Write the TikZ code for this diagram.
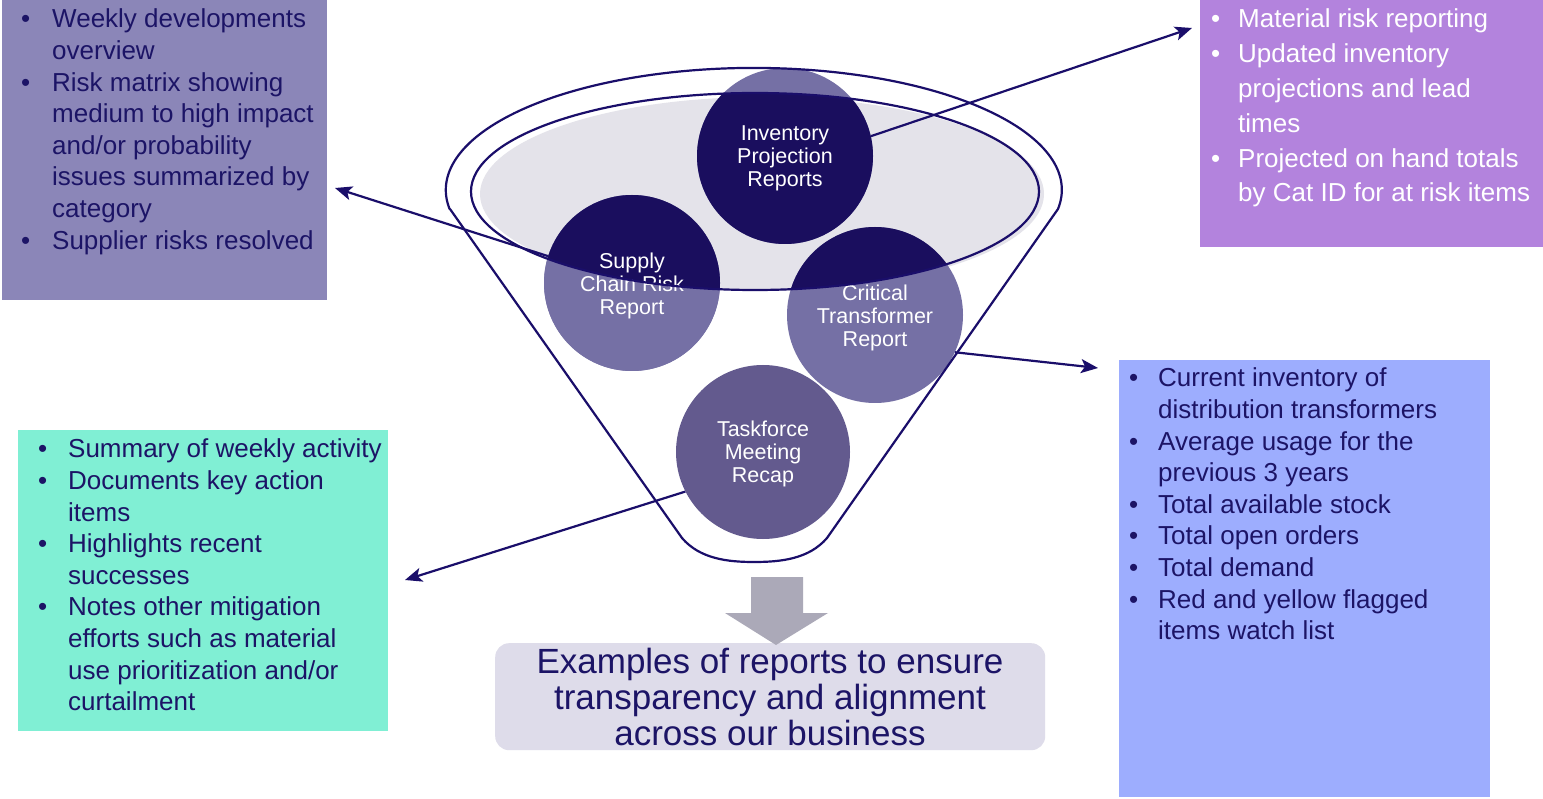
\documentclass[tikz,border=0pt]{standalone}
\usepackage{fontspec}
\setmainfont{Liberation Sans}
\usetikzlibrary{arrows.meta}
\definecolor{navy}{HTML}{1C1466}
\definecolor{lnavy}{HTML}{1A0E6A}
\definecolor{darkc}{HTML}{1A0E5E}
\definecolor{lightc}{HTML}{7570A5}
\definecolor{taskc}{HTML}{635A8E}
\definecolor{boxTL}{HTML}{8B86B8}
\definecolor{boxTR}{HTML}{B383DD}
\definecolor{boxR}{HTML}{9DADFE}
\definecolor{boxBL}{HTML}{80EFD4}
\definecolor{boxB}{HTML}{DEDCEA}
\definecolor{arrowg}{HTML}{ABA9B8}
\definecolor{ellg}{HTML}{E4E3EA}
\begin{document}
\begin{tikzpicture}[x=1pt,y=-1pt,
  infobox/.style={draw=none,inner sep=0pt,anchor=north west},
  listtext/.style={anchor=base west,inner sep=0pt,font=\fontsize{26}{31.6}\selectfont},
  repcircle/.style={circle,draw=none,inner sep=0pt,minimum size=176pt},
  reptext/.style={inner sep=0pt,text=white,align=center,font=\fontsize{21.5}{23}\selectfont},
  conn/.style={draw=lnavy,line width=2.2pt,-{Stealth[length=17pt,width=14pt,inset=4pt]}},
  outline/.style={draw=lnavy,line width=2.2pt}]
\useasboundingbox (0,0) rectangle (1543,799);
\fill[white] (0,0) rectangle (1543,799);

% boxes
\node[infobox,fill=boxTL,minimum width=325pt,minimum height=300pt] (bTL) at (2,0) {};
\node[infobox,fill=boxTR,minimum width=343pt,minimum height=247pt] (bTR) at (1200,0) {};
\node[infobox,fill=boxR,minimum width=371pt,minimum height=437pt] (bR) at (1119,360) {};
\node[infobox,fill=boxBL,minimum width=370pt,minimum height=301pt] (bBL) at (18,430) {};

\node[listtext,text=navy] (tTL) at (21,28) {\begin{tabular}[t]{@{}p{31pt}@{}l@{}}
• & Weekly developments\\
  & overview\\
• & Risk matrix showing\\
  & medium to high impact\\
  & and/or probability\\
  & issues summarized by\\
  & category\\
• & Supplier risks resolved
\end{tabular}};

\node[listtext,text=white,font=\fontsize{26}{34.8}\selectfont] (tTR) at (1211,28) {\begin{tabular}[t]{@{}p{27pt}@{}l@{}}
• & Material risk reporting\\
• & Updated inventory\\
  & projections and lead\\
  & times\\
• & Projected on hand totals\\
  & by Cat ID for at risk items
\end{tabular}};

\node[listtext,text=navy] (tR) at (1129,387) {\begin{tabular}[t]{@{}p{29pt}@{}l@{}}
• & Current inventory of\\
  & distribution transformers\\
• & Average usage for the\\
  & previous 3 years\\
• & Total available stock\\
• & Total open orders\\
• & Total demand\\
• & Red and yellow flagged\\
  & items watch list
\end{tabular}};

\node[listtext,text=navy] (tBL) at (38,458) {\begin{tabular}[t]{@{}p{30pt}@{}l@{}}
• & Summary of weekly activity\\
• & Documents key action\\
  & items\\
• & Highlights recent\\
  & successes\\
• & Notes other mitigation\\
  & efforts such as material\\
  & use prioritization and/or\\
  & curtailment
\end{tabular}};

% bottom summary
\node[infobox,fill=boxB,rounded corners=14pt,minimum width=550pt,minimum height=107pt] (bB) at (495,643) {};
\node[anchor=base,inner sep=0pt,text=navy,font=\fontsize{35}{36}\selectfont] (tB) at (770,673) {\begin{tabular}[t]{@{}c@{}}
Examples of reports to ensure\\
transparency and alignment\\
across our business
\end{tabular}};

% gray down arrow
\fill[arrowg] (751,577) -- (803,577) -- (803,613) -- (828,613) -- (776,645) -- (725,613) -- (751,613) -- cycle;

% inner ellipse fill
\fill[ellg] (762,194) ellipse [x radius=282, y radius=97];

% circles
\node[repcircle,fill=lightc] (inv) at (785,156) {};
\node[repcircle,fill=lightc] (sup) at (632,283) {};
\node[repcircle,fill=lightc] (cri) at (875,315) {};
\node[repcircle,fill=taskc,minimum size=174pt] (task) at (763,452) {};

% arrow targets
\coordinate (t1) at (1192,28);
\coordinate (t2) at (335,188);
\coordinate (t3) at (1098,368);
\coordinate (t4) at (405,580);

% connectors (under circles where they start)
\draw[conn] (sup.center) -- (t2);
\draw[conn] (inv.13) -- (t1);
\draw[conn] (cri.-25) -- (t3);
\draw[conn] (task.207) -- (t4);

% redraw circles on top of connector starts
\fill[lightc] (sup.center) circle (88);
\begin{scope}
\clip (755,191.5) ellipse [x radius=284, y radius=98.5];
\fill[darkc] (inv.center) circle (88);
\fill[darkc] (sup.center) circle (88);
\fill[darkc] (cri.center) circle (88);
\end{scope}

\node[reptext] (invt) at ([yshift=-2.5pt]inv.center) {Inventory\\Projection\\Reports};
\node[reptext] (supt) at ([yshift=-2.5pt]sup.center) {Supply\\Chain Risk\\Report};
\node[reptext] (crit) at ([yshift=-2.5pt]cri.center) {Critical\\Transformer\\Report};
\node[reptext] (taskt) at ([yshift=-2pt]task.center) {Taskforce\\Meeting\\Recap};

% funnel outlines
\draw[outline] (755,191.5) ellipse [x radius=284, y radius=98.5];
\draw[outline,line join=round] (450,209) -- (682,538)
  .. controls (700,559) and (728,562) .. (754,562)
  .. controls (781,562) and (809,559) .. (827,538)
  -- (1058,209) arc[start angle=9, end angle=-189, x radius=308, y radius=122] -- cycle;
\end{tikzpicture}
\end{document}
